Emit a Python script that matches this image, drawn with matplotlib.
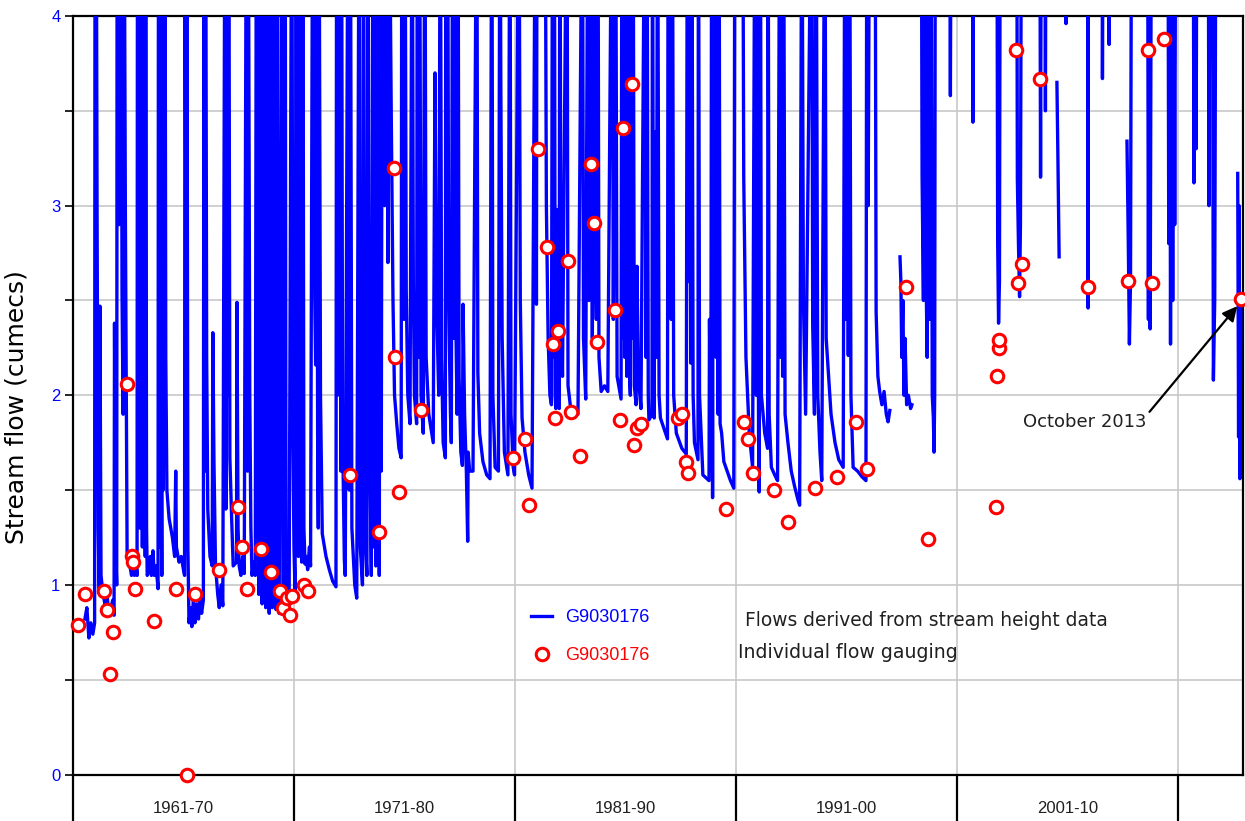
import numpy as np
import matplotlib
matplotlib.use("Agg")
import matplotlib.pyplot as plt

nan = np.nan

# Daily flow trace, 5.0 = above the top of the axis, nan = data gap
flow_year = [
    1961.54, 1961.63, 1961.72, 1961.81, 1961.90, 1961.98, 1962.00, 1962.05, 1962.09, 1962.14,
    1962.19, 1962.22, 1962.27, 1962.36, 1962.45, 1962.52, 1962.58, 1962.70, 1962.80, 1962.86,
    1962.88, 1962.93, 1962.98, 1963.00, 1963.05, 1963.09, 1963.13, 1963.18, 1963.22, 1963.27,
    1963.31, 1963.37, 1963.45, 1963.55, 1963.65, 1963.72, 1963.78, 1963.85, 1963.90, 1963.92,
    1963.96, 1963.98, 1964.02, 1964.04, 1964.08, 1964.10, 1964.14, 1964.16, 1964.20, 1964.22,
    1964.27, 1964.29, 1964.33, 1964.36, 1964.45, 1964.50, 1964.55, 1964.62, 1964.68, 1964.76,
    1964.85, 1964.87, 1964.91, 1964.93, 1964.95, 1964.99, 1965.02, 1965.04, 1965.08, 1965.10,
    1965.14, 1965.16, 1965.20, 1965.25, 1965.35, 1965.50, 1965.60, 1965.65, 1965.68, 1965.80,
    1965.90, 1966.00, 1966.05, 1966.07, 1966.12, 1966.15, 1966.20, 1966.25, 1966.32, 1966.38,
    1966.45, 1966.52, 1966.60, 1966.68, 1966.75, 1966.82, 1966.90, 1966.93, 1966.97, 1967.00,
    1967.05, 1967.10, 1967.20, 1967.30, 1967.33, 1967.38, 1967.45, 1967.55, 1967.62, 1967.70,
    1967.78, 1967.88, 1967.92, 1967.95, 1968.00, 1968.05, 1968.10, 1968.18, 1968.25, 1968.40,
    1968.42, 1968.47, 1968.52, 1968.60, 1968.68, 1968.75, 1968.85, 1968.90, 1968.93, 1969.00,
    1969.05, 1969.10, 1969.18, 1969.25, 1969.30, 1969.34, 1969.37, 1969.41, 1969.44, 1969.48,
    1969.51, 1969.56, 1969.60, 1969.64, 1969.67, 1969.72, 1969.76, 1969.80, 1969.83, 1969.88,
    1969.91, 1969.95, 1969.98, 1970.02, 1970.06, 1970.10, 1970.14, 1970.19, 1970.23, 1970.28,
    1970.33, 1970.45, 1970.50, 1970.55, 1970.60, 1970.64, 1970.68, 1970.78, 1970.90, 1970.95,
    1971.00, 1971.05, 1971.10, 1971.15, 1971.20, 1971.25, 1971.30, 1971.35, 1971.40, 1971.45,
    1971.50, 1971.55, 1971.62, 1971.70, 1971.75, 1971.85, 1971.90, 1971.94, 1971.98, 1972.02,
    1972.07, 1972.10, 1972.13, 1972.20, 1972.28, 1972.45, 1972.60, 1972.75, 1972.90, 1972.93,
    1972.97, 1973.00, 1973.04, 1973.07, 1973.12, 1973.15, 1973.20, 1973.28, 1973.32, 1973.45,
    1973.50, 1973.55, 1973.62, 1973.75, 1973.84, 1973.95, 1974.00, 1974.10, 1974.15, 1974.20,
    1974.30, 1974.35, 1974.40, 1974.50, 1974.58, 1974.62, 1974.65, 1974.70, 1974.73, 1974.78,
    1974.82, 1974.86, 1974.90, 1974.95, 1975.00, 1975.05, 1975.10, 1975.14, 1975.20, 1975.25,
    1975.30, 1975.40, 1975.48, 1975.55, 1975.65, 1975.75, 1975.85, 1975.88, 1975.92, 1975.98,
    1976.02, 1976.08, 1976.15, 1976.25, 1976.35, 1976.40, 1976.45, 1976.55, 1976.58, 1976.63,
    1976.68, 1976.75, 1976.85, 1976.92, 1976.98, 1977.10, 1977.30, 1977.38, 1977.45, 1977.55,
    1977.62, 1977.68, 1977.75, 1977.85, 1977.87, 1977.92, 1977.95, 1978.00, 1978.08, 1978.12,
    1978.18, 1978.22, 1978.25, 1978.30, 1978.38, 1978.42, 1978.47, 1978.55, 1978.62, 1978.65,
    1978.72, 1978.80,
    1978.86, 1978.88, 1978.95, 1979.10, 1979.27, 1979.32, 1979.40, 1979.55, 1979.72, 1979.87,
    1979.95, 1980.00, 1980.10, 1980.25, 1980.32, 1980.36, 1980.42, 1980.52, 1980.68, 1980.77,
    1980.82, 1980.92, 1980.98, 1981.18, 1981.24, 1981.32, 1981.45, 1981.62, 1981.77, 1981.93,
    1981.97, 1982.00, 1982.36, 1982.42, 1982.50, 1982.58, 1982.65,
    1982.70, 1982.74, 1982.78, 1982.82,
    1982.85, 1982.88, 1982.95,
    1983.00, 1983.03, 1983.08, 1983.15, 1983.35, 1983.40, 1983.50, 1983.60, 1983.85, 1984.05,
    1984.10, 1984.20, 1984.30, 1984.35, 1984.42, 1984.50, 1984.58, 1984.62, 1984.68, 1984.75,
    1984.80, 1984.90, 1985.05, 1985.20, 1985.39, 1985.45, 1985.55, 1985.62, 1985.80, 1985.84,
    1985.88, 1985.92, 1985.97, 1986.01, 1986.06, 1986.10, 1986.15, 1986.22,
    1986.26, 1986.30, 1986.34, 1986.40,
    1986.48, 1986.52,
    1986.58, 1986.70, 1986.88, 1986.93, 1986.97, 1987.03, 1987.06,
    1987.20, 1987.22, 1987.27,
    1987.30, 1987.33, 1987.40,
    1987.45, 1987.52, 1987.58, 1987.90, 1987.93, 1987.98, 1988.02, 1988.07, 1988.12, 1988.18,
    1988.30, 1988.55, 1988.75, 1988.80, 1988.85, 1988.90, 1988.95, 1989.00, 1989.06, 1989.12,
    1989.28, 1989.30, 1989.35, 1989.50, 1989.78, 1989.80, 1989.86, 1989.90, 1989.94, 1989.97,
    1990.02, 1990.05, 1990.10, 1990.14, 1990.19, 1990.23,
    1990.28, 1990.35, 1990.45, 1990.60, 1990.75, 1990.90, 1990.95, 1991.30, 1991.35, 1991.45,
    1991.60, 1991.75, 1991.86, 1991.92, 1991.96, 1992.02, 1992.05, 1992.10, 1992.15, 1992.30,
    1992.43, 1992.45, 1992.50, 1992.60, 1992.75, 1992.88, 1992.98, 1993.03, 1993.06, 1993.11,
    1993.15, 1993.22, 1993.35, 1993.50, 1993.65,
    1993.80, 1993.88, 1993.98, 1994.05, 1994.15, 1994.42, 1994.47, 1994.55, 1994.62, 1994.70,
    1994.80, 1994.88, 1995.02, 1995.08, 1995.30, 1995.48, 1995.65, 1995.85, 1995.93, 1995.97,
    1996.02, 1996.08, 1996.14, 1996.20, 1996.30, 1996.50, 1996.70, 1996.88, 1996.92, 1996.98,
    1997.05, 1997.29, 1997.34, 1997.42, 1997.50, 1997.60, 1997.70, 1997.80, 1997.88, 1997.96,
    1997.97,
    1998.42, 1998.46, 1998.50, 1998.55, 1998.60, 1998.65, 1998.72, 1998.80, 1998.90, 1998.96,
    1998.97,
    1999.38, 1999.42, 1999.48, 1999.52, 1999.58, 1999.65, 1999.70, 1999.76, 1999.82, 1999.88,
    1999.93, 1999.96, 1999.99, 2000.02, 2000.66, 2000.70, 2000.74, 2001.70, 2001.72, 2001.75,
    2002.80, 2002.84, 2002.88, 2002.92, 2002.96, 2003.70, 2003.73, 2003.78, 2003.83, 2003.87,
    2003.92, 2004.74, 2004.78, 2004.82, 2004.97, 2005.00, 2005.03, 2005.04,
    2005.52, 2005.56, 2005.62, 2005.63,
    2005.92, 2005.93, 2005.95, 2006.91, 2006.93, 2006.95, 2007.56, 2007.58, 2007.62, 2007.86,
    2007.88, 2007.90, 2007.91,
    2008.69, 2008.75, 2008.80, 2008.85, 2008.90, 2009.62, 2009.66, 2009.70, 2009.74, 2009.80,
    2010.54, 2010.58, 2010.62, 2010.66, 2010.72, 2010.76, 2010.80, 2010.85, 2010.90, 2011.68,
    2011.72, 2011.78, 2011.82, 2011.86, 2012.36, 2012.40, 2012.45, 2012.55, 2012.60, 2012.66,
    2012.72, 2012.73,
    2013.70, 2013.74, 2013.76, 2013.80, 2013.84,
]
flow_cumecs = [
    0.82, 0.88, 0.72, 0.80, 0.74, 0.80, 5.0, 5.0, 3.0, 1.3,
    0.96, 2.47, 1.05, 0.95, 0.90, 0.98, 0.90, 0.87, 0.92, 0.84,
    2.38, 1.2, 1.0, 5.0, 5.0, 2.9, 5.0, 5.0, 2.54, 1.9,
    5.0, 3.0, 1.17, 1.12, 1.05, 1.15, 1.05, 1.10, 1.05, 5.0,
    1.6, 5.0, 1.3, 5.0, 1.8, 5.0, 1.2, 5.0, 1.5, 5.0,
    1.15, 5.0, 1.3, 1.05, 1.08, 1.15, 1.05, 1.18, 1.05, 1.10,
    0.98, 5.0, 1.78, 1.2, 5.0, 2.0, 1.05, 5.0, 1.5, 5.0,
    1.78, 5.0, 2.2, 1.5, 1.35, 1.25, 1.15, 1.6, 1.2, 1.12,
    1.15, 1.08, 1.05, 5.0, 2.0, 5.0, 1.2, 0.80, 0.88, 0.78,
    0.93, 0.80, 0.90, 0.82, 0.95, 0.85, 0.92, 5.0, 1.6, 5.0,
    2.2, 1.4, 1.15, 1.1, 2.33, 1.65, 1.1, 0.95, 0.88, 1.0,
    0.89, 5.0, 1.4, 5.0, 2.0, 5.0, 1.67, 1.35, 1.10, 1.12,
    2.49, 1.3, 1.10, 1.05, 1.15, 1.06, 5.0, 1.6, 5.0, 2.0,
    1.3, 1.05, 1.12, 1.05, 5.0, 1.2, 5.0, 0.95, 5.0, 1.1,
    5.0, 0.9, 5.0, 1.0, 5.0, 0.88, 5.0, 0.95, 5.0, 0.85,
    5.0, 0.92, 5.0, 0.88, 5.0, 0.95, 5.0, 0.87, 5.0, 0.90,
    0.85, 5.0, 0.92, 0.95, 5.0, 1.2, 0.90, 0.88, 5.0, 1.81,
    1.2, 0.95, 5.0, 1.5, 1.15, 5.0, 1.27, 1.12, 5.0, 1.3,
    1.11, 1.15, 1.08, 1.2, 1.1, 5.0, 5.0, 2.52, 2.16, 5.0,
    1.8, 1.3, 5.0, 2.0, 1.27, 1.15, 1.08, 1.02, 0.99, 5.0,
    2.0, 5.0, 3.15, 5.0, 1.6, 5.0, 1.8, 1.13, 1.05, 5.0,
    1.5, 5.0, 1.3, 1.0, 0.93, 5.0, 1.2, 1.0, 5.0, 1.3,
    1.05, 5.0, 2.07, 1.05, 5.0, 1.2, 5.0, 1.1, 5.0, 1.3,
    5.0, 1.05, 5.0, 1.6, 5.0, 5.0, 3.0, 5.0, 5.0, 2.7,
    5.0, 3.5, 2.5, 2.0, 1.85, 1.72, 1.67, 5.0, 3.62, 2.4,
    5.0, 2.55, 2.0, 1.85, 5.0, 2.6, 2.0, 1.85, 5.0, 2.2,
    5.0, 2.0, 1.80, 5.0, 2.2, 1.9, 1.75, 3.7, 2.5, 2.0,
    5.0, 2.2, 1.75, 1.67, 5.0, 3.1, 5.0, 2.5, 1.9, 1.75,
    5.0, 2.3, 5.0, 2.6, 1.9, 5.0, 2.1, 1.7, 1.63, 2.48,
    1.9, 1.6,
    1.23, 1.7, 1.6, 1.6, 5.0, 2.12, 1.8, 1.65, 1.58, 1.56,
    5.0, 2.0, 1.62, 1.6, 5.0, 3.63, 2.3, 1.7, 1.58, 5.0,
    1.9, 1.62, 1.58, 5.0, 2.5, 1.88, 1.7, 1.58, 1.51, 5.0,
    2.48, 5.0, 5.0, 3.0, 2.3, 2.0, 1.95,
    5.0, 2.2, 5.0, 2.0,
    1.93, 2.98, 2.2,
    1.93, 5.0, 2.5, 2.1, 5.0, 2.05, 1.95, 1.90, 1.90, 5.0,
    2.3, 1.98, 5.0, 2.5, 5.0, 2.3, 5.0, 2.99, 2.4, 5.0,
    2.2, 2.02, 2.05, 2.02, 5.0, 2.4, 5.0, 2.1, 1.98, 5.0,
    2.3, 5.0, 2.2, 5.0, 2.1, 5.0, 2.2, 2.0,
    5.0, 2.3, 5.0, 2.05,
    1.95, 2.68,
    2.1, 1.93, 5.0, 2.2, 5.0, 2.0, 1.87,
    1.9, 5.0, 2.0,
    1.88, 3.39, 2.2,
    5.0, 2.0, 1.88, 1.77, 5.0, 3.45, 5.0, 2.4, 5.0, 2.0,
    1.8, 1.72, 1.69, 5.0, 2.6, 5.0, 2.17, 5.0, 2.0, 1.75,
    1.66, 5.0, 2.0, 1.58, 1.55, 2.4, 1.6, 5.0, 1.46, 5.0,
    2.3, 5.0, 2.2, 5.0, 1.9, 5.0,
    1.85, 1.8, 1.65, 1.6, 1.55, 1.51, 5.0, 5.0, 3.15, 2.2,
    1.8, 1.62, 5.0, 2.0, 5.0, 1.8, 1.49, 5.0, 2.0, 1.8,
    1.72, 5.0, 1.9, 1.62, 1.58, 1.55, 5.0, 2.2, 5.0, 2.1,
    5.0, 1.9, 1.75, 1.6, 1.52,
    1.45, 1.42, 5.0, 2.5, 1.9, 5.0, 2.37, 1.9, 5.0, 2.0,
    1.7, 1.55, 5.0, 2.3, 1.9, 1.75, 1.66, 1.62, 5.0, 2.4,
    5.0, 2.21, 5.0, 2.0, 1.62, 1.6, 1.57, 1.55, 5.0, 3.0,
    5.0, 5.0, 2.44, 2.1, 2.02, 1.95, 2.02, 1.9, 1.86, 1.92,
    nan,
    2.73, 2.6, 2.2, 2.5, 2.0, 2.3, 1.95, 2.0, 1.93, 1.95,
    nan,
    5.0, 3.15, 2.5, 5.0, 2.8, 2.2, 5.0, 2.4, 5.0, 2.0,
    1.88, 1.70, 2.0, 5.0, 5.0, 3.58, 5.0, 5.0, 3.44, 5.0,
    5.0, 2.8, 2.38, 2.6, 5.0, 5.0, 3.14, 2.8, 2.52, 2.9,
    5.0, 5.0, 3.15, 5.0, 5.0, 3.5, 5.0, nan,
    3.65, 3.3, 2.73, nan,
    5.0, 3.96, 5.0, 5.0, 2.46, 5.0, 5.0, 3.67, 5.0, 5.0,
    3.85, 5.0, nan,
    3.34, 2.8, 2.27, 2.6, 5.0, 5.0, 2.4, 5.0, 2.35, 5.0,
    5.0, 2.8, 5.0, 2.27, 5.0, 2.5, 5.0, 2.9, 5.0, 5.0,
    3.12, 5.0, 3.3, 5.0, 5.0, 3.0, 5.0, 5.0, 2.08, 2.5,
    5.0, nan,
    3.17, 1.78, 3.0, 1.56, 2.51,
]

# Individual flow gaugings
gauge_year = [
    1961.23, 1961.54, 1962.40, 1962.54, 1962.67, 1962.81, 1963.44, 1963.67, 1963.71, 1963.81,
    1964.67, 1965.66, 1966.16, 1966.52, 1967.61, 1968.47, 1968.65, 1968.87, 1969.51, 1969.96,
    1970.37, 1970.50, 1970.68, 1970.82, 1970.91, 1971.45, 1971.63, 1973.53, 1974.85, 1975.52,
    1975.57, 1975.75, 1976.75, 1980.91, 1981.45, 1981.63, 1982.04, 1982.45, 1982.72, 1982.95,
    1982.81, 1983.40, 1983.53, 1983.94, 1984.44, 1984.57, 1984.71, 1985.52, 1985.75, 1985.89,
    1986.29, 1986.38, 1986.52, 1986.70, 1988.38, 1988.56, 1988.74, 1988.83, 1990.55, 1991.36,
    1991.54, 1991.77, 1992.72, 1993.35, 1994.57, 1995.57, 1996.43, 1996.93, 1998.69, 1999.69,
    2002.76, 2002.81, 2002.89, 2002.91, 2003.76, 2003.94, 2003.67, 2004.76, 2006.93, 2008.74,
    2009.82, 2009.64, 2010.37, 2013.84,
]
gauge_cumecs = [
    0.79, 0.95, 0.97, 0.87, 0.53, 0.75, 2.06, 1.15, 1.12, 0.98,
    0.81, 0.98, 0.00, 0.95, 1.08, 1.41, 1.20, 0.98, 1.19, 1.07,
    0.97, 0.88, 0.93, 0.84, 0.94, 1.00, 0.97, 1.58, 1.28, 3.20,
    2.20, 1.49, 1.92, 1.67, 1.77, 1.42, 3.30, 2.78, 2.27, 2.34,
    1.88, 2.71, 1.91, 1.68, 3.22, 2.91, 2.28, 2.45, 1.87, 3.41,
    3.64, 1.74, 1.83, 1.85, 1.88, 1.90, 1.65, 1.59, 1.40, 1.86,
    1.77, 1.59, 1.50, 1.33, 1.51, 1.57, 1.86, 1.61, 2.57, 1.24,
    1.41, 2.10, 2.25, 2.29, 2.59, 2.69, 3.82, 3.67, 2.57, 2.60,
    2.59, 3.82, 3.88, 2.51,
]

decade_edges = [1961, 1971, 1981, 1991, 2001, 2011]
decade_mids = [1966, 1976, 1986, 1996, 2006]
decade_labels = ["1961-70", "1971-80", "1981-90", "1991-00", "2001-10"]

fig = plt.figure(figsize=(12.45, 8.21), dpi=100)
ax = fig.add_axes([0.0586, 0.0566, 0.9398, 0.9239])

ax.plot(flow_year, flow_cumecs, color="#0000ff", lw=2.4, label="G9030176", zorder=3)
ax.plot(gauge_year, gauge_cumecs, "o", ms=9, mfc="white", mec="#ff0000", mew=2.2,
        clip_on=False, zorder=4, label="G9030176")

ax.set_xlim(1961, 2013.94)
ax.set_ylim(0, 4)

# y axis
ax.set_yticks([0, 1, 2, 3, 4])
ax.set_yticks([0.5, 1.5, 2.5, 3.5], minor=True)
ax.tick_params(axis="y", which="both", direction="out", length=6, width=1.2,
               labelsize=12, labelcolor="#0000ff", pad=3)
for t in ax.get_yticklabels():
    t.set_fontfamily("Liberation Sans")

# x axis: long ticks at decade edges, labels in between
ax.set_xticks(decade_edges)
ax.set_xticklabels([])
ax.set_xticks(decade_mids, minor=True)
ax.set_xticklabels(decade_labels, minor=True, fontsize=12, family="Liberation Sans", color="#202020")
ax.tick_params(axis="x", which="major", direction="out", length=33, width=1.6)
ax.tick_params(axis="x", which="minor", length=0, pad=19)

ax.set_axisbelow(True)
ax.yaxis.grid(True, which="both", color="#c8c8c8", lw=1.2)
ax.xaxis.grid(True, which="major", color="#c8c8c8", lw=1.2)
for s in ax.spines.values():
    s.set_linewidth(1.6)

ax.set_ylabel("Stream flow (cumecs)", fontsize=18, family="DejaVu Sans")
ax.yaxis.set_label_coords(-0.038, 0.485)

leg = ax.legend(loc="upper left", bbox_to_anchor=(0.384, 0.230), frameon=False,
                prop={"family": "Liberation Sans", "size": 13}, borderpad=0,
                handlelength=1.15, handletextpad=0.75, labelspacing=1.15)
for txt, c in zip(leg.get_texts(), ["#0000ff", "#ff0000"]):
    txt.set_color(c)

ax.text(1991.41, 0.81, "Flows derived from stream height data", fontsize=13.4,
        family="DejaVu Sans", color="#202020", va="center", ha="left")
ax.text(1991.09, 0.645, "Individual flow gauging", fontsize=13.6,
        family="DejaVu Sans", color="#202020", va="center", ha="left")

ax.annotate("October 2013", xy=(2013.68, 2.47), xytext=(2006.79, 1.857),
            fontsize=13, family="DejaVu Sans", color="#202020", ha="center", va="center",
            arrowprops=dict(arrowstyle="-|>", color="black", lw=1.6, mutation_scale=22,
                            shrinkA=0, shrinkB=0, relpos=(1.0, 0.9)))

fig.savefig("out.png", dpi=100)
